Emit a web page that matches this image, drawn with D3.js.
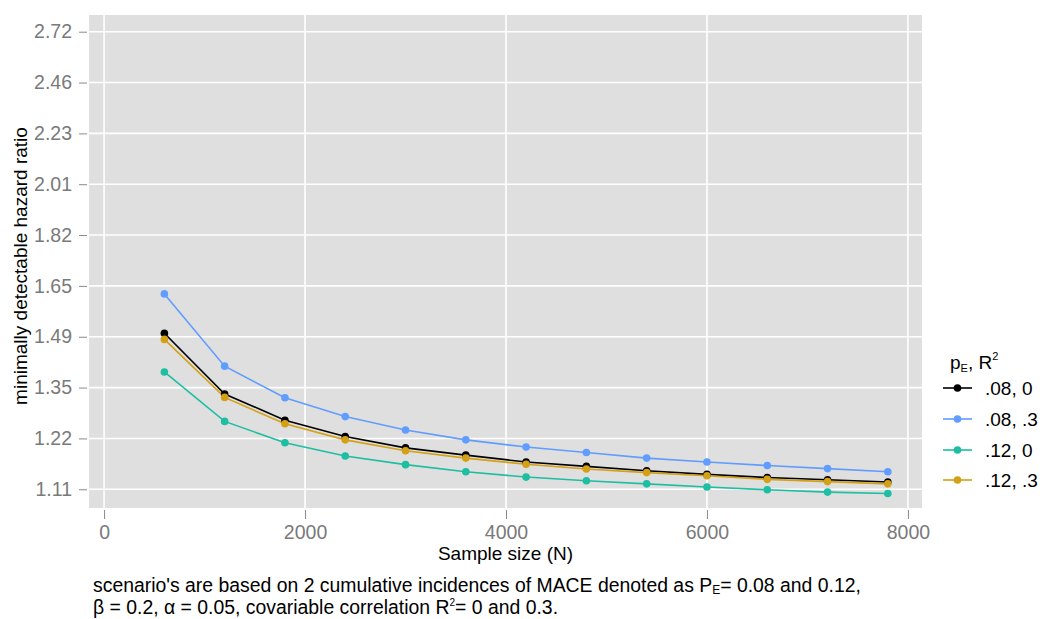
<!DOCTYPE html>
<html><head><meta charset="utf-8">
<script src="https://cdn.jsdelivr.net/npm/d3@7"></script>
<style>
body{margin:0;background:#fff;}
svg text{font-family:"Liberation Sans",Arial,sans-serif;}
</style></head>
<body><svg id="c" width="1043" height="619"></svg>
<script>
const sampleSizes = [600,1200,1800,2400,3000,3600,4200,4800,5400,6000,6600,7200,7800];
const seriesNames = [".08, 0", ".08, .3", ".12, 0", ".12, .3"];
const seriesColors = ["#000000", "#619CFF", "#1DBEA2", "#D4A015"];
const hr_08_0  = [1.502,1.333,1.266,1.226,1.199,1.182,1.166,1.156,1.146,1.138,1.131,1.126,1.121];
const hr_08_3  = [1.623,1.408,1.323,1.275,1.242,1.218,1.201,1.188,1.175,1.166,1.158,1.151,1.144];
const hr_12_0  = [1.392,1.263,1.211,1.180,1.160,1.144,1.132,1.124,1.117,1.110,1.104,1.099,1.096];
const hr_12_3  = [1.484,1.324,1.257,1.218,1.192,1.175,1.161,1.150,1.142,1.135,1.127,1.122,1.117];
const yTickValues = [0.1,0.2,0.3,0.4,0.5,0.6,0.7,0.8,0.9,1.0].map(Math.exp);
const yTickLabels = ["1.11","1.22","1.35","1.49","1.65","1.82","2.01","2.23","2.46","2.72"];
const xTickValues = [0,2000,4000,6000,8000];
const xTickLabels = ["0","2000","4000","6000","8000"];
const seriesValues = [hr_08_0, hr_08_3, hr_12_0, hr_12_3];

const svg = d3.select("#c");
const P = {l:89, r:922, t:15, b:508};
const x = d3.scaleLinear().domain([-150, 8140]).range([P.l, P.r]);
const y = d3.scaleLog().domain([1.0652, 2.809]).range([P.b, P.t]);

svg.append("rect").attr("x",P.l).attr("y",P.t).attr("width",P.r-P.l).attr("height",P.b-P.t).attr("fill","#DFDFDF");
// grid
svg.append("g").selectAll("line").data(yTickValues).join("line")
  .attr("x1",P.l).attr("x2",P.r).attr("y1",d=>y(d)).attr("y2",d=>y(d))
  .attr("stroke","#fff").attr("stroke-width",1.6);
svg.append("g").selectAll("line").data(xTickValues).join("line")
  .attr("y1",P.t).attr("y2",P.b).attr("x1",d=>x(d)).attr("x2",d=>x(d))
  .attr("stroke","#fff").attr("stroke-width",1.6);

// axes
const yAxis = d3.axisLeft(y).tickValues(yTickValues).tickFormat((d,i)=>yTickLabels[i]).tickSize(8).tickPadding(7);
const gy = svg.append("g").attr("transform",`translate(${P.l-2},0)`).call(yAxis);
gy.select(".domain").remove();
gy.selectAll("line").attr("stroke","#8a8a8a").attr("stroke-width",1);
gy.selectAll("text").attr("fill","#7a7a7a").style("font-size","19.5px");

const xAxis = d3.axisBottom(x).tickValues(xTickValues).tickFormat((d,i)=>xTickLabels[i]).tickSize(9).tickPadding(6);
const gx = svg.append("g").attr("transform",`translate(0,${P.b+2})`).call(xAxis);
gx.select(".domain").remove();
gx.selectAll("line").attr("stroke","#8a8a8a").attr("stroke-width",1);
gx.selectAll("text").attr("fill","#7a7a7a").style("font-size","19.5px");

// lines
const line = d3.line().x((d,i)=>x(sampleSizes[i])).y(d=>y(d));
seriesValues.forEach((vals,k)=>{
  svg.append("path").datum(vals).attr("d",line).attr("fill","none")
    .attr("stroke",seriesColors[k]).attr("stroke-width",1.6);
});
seriesValues.forEach((vals,k)=>{
  svg.append("g").selectAll("circle").data(vals).join("circle")
    .attr("cx",(d,i)=>x(sampleSizes[i])).attr("cy",d=>y(d)).attr("r",3.8)
    .attr("fill",seriesColors[k]);
});

// axis titles
svg.append("text").attr("x",(P.l+P.r)/2).attr("y",560).attr("text-anchor","middle")
  .style("font-size","19px").attr("fill","#000").text("Sample size (N)");
svg.append("text").attr("transform",`translate(27,266) rotate(-90)`).attr("text-anchor","middle")
  .style("font-size","19px").attr("fill","#000").text("minimally detectable hazard ratio");

// legend
const lt = svg.append("text").attr("x",950).attr("y",369).style("font-size","19px").attr("fill","#000");
lt.append("tspan").text("p");
lt.append("tspan").attr("baseline-shift","-3").style("font-size","11px").text("E");
lt.append("tspan").text(", R");
lt.append("tspan").attr("baseline-shift","9").style("font-size","11px").text("2");
const legY = [388, 419, 450, 480];
seriesNames.forEach((n,k)=>{
  const g = svg.append("g").attr("transform",`translate(0,${legY[k]})`);
  g.append("line").attr("x1",943).attr("x2",972).attr("stroke",seriesColors[k]).attr("stroke-width",1.6);
  g.append("circle").attr("cx",957.5).attr("r",3.8).attr("fill",seriesColors[k]);
  g.append("text").attr("x",985).attr("y",7).style("font-size","19px").attr("fill","#000").text(n);
});

// caption
const c1 = svg.append("text").attr("x",93).attr("y",592).style("font-size","19.4px").attr("fill","#000");
c1.append("tspan").text("scenario's are based on 2 cumulative incidences of MACE denoted as P");
c1.append("tspan").attr("baseline-shift","-2").style("font-size","12px").text("E");
c1.append("tspan").text("= 0.08 and 0.12,");
const c2 = svg.append("text").attr("x",93).attr("y",614).style("font-size","19.4px").attr("fill","#000");
c2.append("tspan").text("β = 0.2, α = 0.05, covariable correlation R");
c2.append("tspan").attr("baseline-shift","8").style("font-size","10px").text("2");
c2.append("tspan").text("= 0 and 0.3.");
</script></body></html>
